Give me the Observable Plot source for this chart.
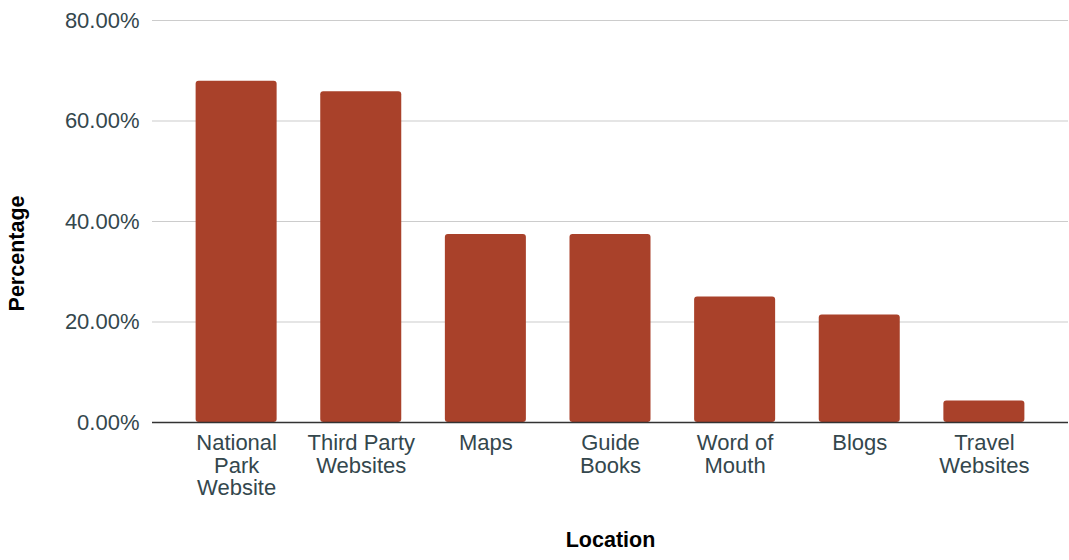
<!DOCTYPE html>
<html>
<head>
<meta charset="utf-8">
<script src="https://cdn.jsdelivr.net/npm/d3@7"></script>
<script src="https://cdn.jsdelivr.net/npm/@observablehq/plot@0.6"></script>
<style>
  html, body { margin: 0; padding: 0; background: #fff; }
  #chart svg { display: block; }
</style>
</head>
<body>
<div id="chart"></div>
<script>
const categories = ["National Park Website", "Third Party Websites", "Maps", "Guide Books", "Word of Mouth", "Blogs", "Travel Websites"];
const tickLabels = ["National\nPark\nWebsite", "Third Party\nWebsites", "Maps", "Guide\nBooks", "Word of\nMouth", "Blogs", "Travel\nWebsites"];
const values = [67.9, 65.8, 37.4, 37.4, 25.0, 21.4, 4.3];
const yTicks = [0, 20, 40, 60, 80];

const data = categories.map((c, i) => ({category: c, value: values[i]}));

const chart = Plot.plot({
  width: 1069,
  height: 560,
  marginLeft: 152,
  marginRight: 1,
  marginTop: 20,
  marginBottom: 138,
  style: {fontFamily: "'Liberation Sans', Arial, sans-serif", fontSize: "22px", color: "#34474d", background: "#fff"},
  x: {domain: categories, padding: 0.35, round: false},
  y: {domain: [0, 80]},
  marks: [
    Plot.ruleY(yTicks.filter(d => d > 0), {stroke: "#cccccc", strokeWidth: 1.2}),
    Plot.barY(data, {x: "category", y: "value", fill: "#a9412a", rx: 3}),
    Plot.ruleY([0], {stroke: "#333333", strokeWidth: 1.5}),
    Plot.axisY({ticks: yTicks, tickSize: 0, tickPadding: 13, tickFormat: d => d.toFixed(2) + "%", label: null}),
    Plot.axisX({tickSize: 0, tickPadding: 12, tickFormat: d => tickLabels[categories.indexOf(d)], lineHeight: 1.02, label: null}),
    Plot.text(["Percentage"], {frameAnchor: "left", dx: -135, dy: 32, rotate: -90, textAnchor: "middle", fontWeight: "bold", fill: "#000", lineAnchor: "middle", fontSize: 21.5}),
    Plot.text(["Location"], {frameAnchor: "bottom", dy: 118, fontWeight: "bold", fill: "#000", lineAnchor: "middle", fontSize: 21.5})
  ]
});
document.getElementById("chart").appendChild(chart);
</script>
</body>
</html>
